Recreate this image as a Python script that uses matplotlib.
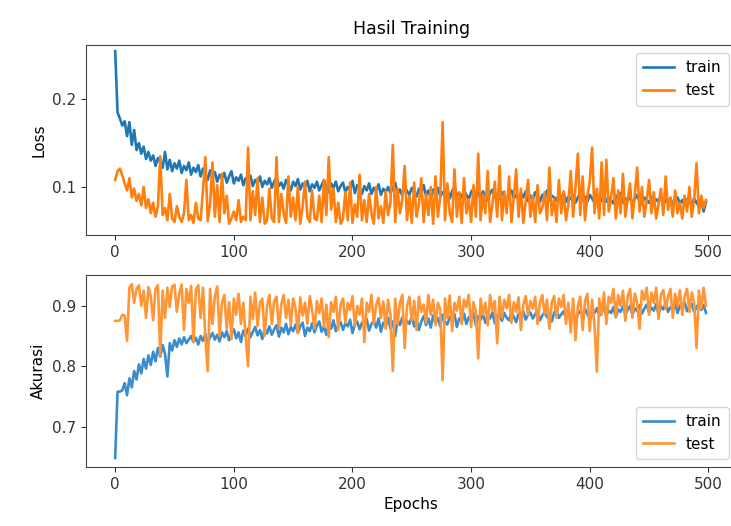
import numpy as np
import matplotlib
matplotlib.use("Agg")
import matplotlib.pyplot as plt

# ---- data (values read every 2 epochs) ----
epochs = list(range(0, 500, 2))

train_loss = [
    0.255, 0.185, 0.178, 0.170, 0.175, 0.158,
    0.174, 0.148, 0.165, 0.142, 0.150, 0.138, 0.146, 0.132, 0.140, 0.130,
    0.136, 0.124, 0.133, 0.128, 0.122, 0.140, 0.120, 0.131, 0.118, 0.127,
    0.121, 0.130, 0.116, 0.124, 0.119, 0.128, 0.114, 0.122, 0.117, 0.125,
    0.112, 0.121, 0.115, 0.108, 0.119, 0.111, 0.117, 0.106, 0.114, 0.110,
    0.116, 0.105, 0.112, 0.118, 0.104, 0.111, 0.107, 0.114, 0.102, 0.110,
    0.106, 0.113, 0.101, 0.108, 0.104, 0.112, 0.100, 0.107, 0.103, 0.110,
    0.099, 0.106, 0.111, 0.101, 0.105, 0.098, 0.108, 0.102, 0.096, 0.106,
    0.101, 0.109, 0.097, 0.104, 0.100, 0.107, 0.095, 0.103, 0.099, 0.106,
    0.096, 0.102, 0.108, 0.098, 0.094, 0.104, 0.099, 0.106, 0.095, 0.101,
    0.105, 0.094, 0.100, 0.097, 0.107, 0.093, 0.102, 0.098, 0.092, 0.101,
    0.096, 0.104, 0.092, 0.099, 0.095, 0.103, 0.091, 0.098, 0.094, 0.100,
    0.093, 0.099, 0.105, 0.092, 0.097, 0.090, 0.101, 0.095, 0.091, 0.099,
    0.094, 0.089, 0.098, 0.093, 0.102, 0.090, 0.096, 0.088, 0.097, 0.092,
    0.099, 0.089, 0.094, 0.091, 0.097, 0.087, 0.095, 0.100, 0.090, 0.093,
    0.088, 0.096, 0.091, 0.086, 0.094, 0.098, 0.089, 0.093, 0.087, 0.095,
    0.090, 0.085, 0.093, 0.097, 0.088, 0.092, 0.086, 0.094, 0.089, 0.084,
    0.092, 0.096, 0.087, 0.091, 0.085, 0.093, 0.088, 0.095, 0.084, 0.090,
    0.086, 0.094, 0.089, 0.083, 0.091, 0.087, 0.096, 0.085, 0.090, 0.088,
    0.084, 0.092, 0.087, 0.093, 0.083, 0.089, 0.086, 0.091, 0.082, 0.088,
    0.094, 0.085, 0.089, 0.083, 0.091, 0.087, 0.082, 0.090, 0.086, 0.084,
    0.092, 0.083, 0.088, 0.085, 0.081, 0.090, 0.086, 0.093, 0.082, 0.087,
    0.084, 0.089, 0.081, 0.086, 0.091, 0.083, 0.080, 0.088, 0.085, 0.082,
    0.089, 0.081, 0.086, 0.083, 0.090, 0.080, 0.085, 0.082, 0.087, 0.079,
    0.084, 0.088, 0.081, 0.085, 0.079, 0.086, 0.083, 0.080, 0.087, 0.082,
    0.078, 0.085, 0.072, 0.083,
]

test_loss = [
    0.108, 0.118, 0.121, 0.113, 0.104, 0.096,
    0.110, 0.088, 0.098, 0.084, 0.092, 0.079, 0.100, 0.076, 0.086, 0.070,
    0.082, 0.066, 0.078, 0.135, 0.068, 0.076, 0.062, 0.092, 0.064, 0.060,
    0.078, 0.066, 0.060, 0.070, 0.108, 0.062, 0.068, 0.059, 0.082, 0.064,
    0.062, 0.096, 0.134, 0.061, 0.080, 0.128, 0.066, 0.102, 0.060, 0.115,
    0.070, 0.090, 0.058, 0.064, 0.072, 0.062, 0.085, 0.060, 0.066, 0.062,
    0.145, 0.062, 0.095, 0.068, 0.110, 0.060, 0.088, 0.058, 0.062, 0.098,
    0.064, 0.060, 0.134, 0.060, 0.092, 0.070, 0.059, 0.112, 0.066, 0.088,
    0.062, 0.100, 0.058, 0.078, 0.106, 0.066, 0.060, 0.096, 0.064, 0.062,
    0.090, 0.060, 0.108, 0.068, 0.134, 0.074, 0.098, 0.060, 0.082, 0.058,
    0.064, 0.094, 0.062, 0.105, 0.059, 0.080, 0.066, 0.114, 0.062, 0.085,
    0.060, 0.092, 0.070, 0.058, 0.100, 0.064, 0.078, 0.059, 0.095, 0.068,
    0.082, 0.148, 0.060, 0.098, 0.070, 0.086, 0.124, 0.062, 0.090, 0.059,
    0.105, 0.066, 0.080, 0.110, 0.060, 0.092, 0.068, 0.100, 0.058, 0.112,
    0.066, 0.088, 0.174, 0.062, 0.104, 0.070, 0.060, 0.120, 0.066, 0.094,
    0.059, 0.110, 0.070, 0.086, 0.060, 0.102, 0.066, 0.138, 0.062, 0.092,
    0.070, 0.118, 0.060, 0.080, 0.106, 0.066, 0.124, 0.062, 0.095, 0.070,
    0.112, 0.060, 0.088, 0.120, 0.066, 0.098, 0.059, 0.084, 0.108, 0.066,
    0.090, 0.060, 0.102, 0.070, 0.076, 0.094, 0.062, 0.122, 0.068, 0.086,
    0.060, 0.108, 0.070, 0.095, 0.062, 0.080, 0.118, 0.066, 0.100, 0.138,
    0.068, 0.112, 0.062, 0.090, 0.106, 0.145, 0.070, 0.098, 0.064, 0.128,
    0.068, 0.131, 0.072, 0.088, 0.110, 0.064, 0.096, 0.070, 0.115, 0.066,
    0.086, 0.104, 0.064, 0.092, 0.122, 0.072, 0.100, 0.066, 0.084, 0.108,
    0.070, 0.094, 0.064, 0.080, 0.098, 0.068, 0.112, 0.074, 0.088, 0.066,
    0.096, 0.070, 0.082, 0.064, 0.090, 0.072, 0.100, 0.066, 0.086, 0.127,
    0.070, 0.090, 0.076, 0.085,
]

train_acc = [
    0.648, 0.758, 0.758, 0.760, 0.772, 0.752,
    0.780, 0.765, 0.792, 0.778, 0.803, 0.788, 0.812, 0.796, 0.818, 0.802,
    0.824, 0.808, 0.830, 0.816, 0.835, 0.820, 0.783, 0.838, 0.826, 0.843,
    0.832, 0.846, 0.836, 0.848, 0.838, 0.844, 0.850, 0.840, 0.847, 0.836,
    0.850, 0.842, 0.853, 0.838, 0.848, 0.855, 0.844, 0.852, 0.841, 0.856,
    0.848, 0.858, 0.843, 0.854, 0.861, 0.846, 0.856, 0.840, 0.859, 0.850,
    0.862, 0.848, 0.857, 0.865, 0.851, 0.860, 0.845, 0.863, 0.854, 0.866,
    0.852, 0.861, 0.868, 0.849, 0.864, 0.856, 0.870, 0.853, 0.865, 0.858,
    0.869, 0.855, 0.866, 0.872, 0.850, 0.864, 0.858, 0.871, 0.856, 0.867,
    0.874, 0.857, 0.866, 0.852, 0.870, 0.862, 0.876, 0.858, 0.868, 0.873,
    0.860, 0.871, 0.866, 0.877, 0.855, 0.869, 0.874, 0.861, 0.872, 0.866,
    0.878, 0.859, 0.870, 0.875, 0.864, 0.879, 0.857, 0.872, 0.867, 0.880,
    0.862, 0.874, 0.850, 0.877, 0.868, 0.881, 0.863, 0.875, 0.870, 0.882,
    0.866, 0.878, 0.860, 0.874, 0.883, 0.868, 0.879, 0.864, 0.884, 0.872,
    0.880, 0.866, 0.885, 0.873, 0.869, 0.882, 0.876, 0.886, 0.865, 0.879,
    0.874, 0.887, 0.870, 0.881, 0.876, 0.888, 0.868, 0.883, 0.877, 0.886,
    0.872, 0.884, 0.879, 0.889, 0.871, 0.882, 0.886, 0.875, 0.888, 0.880,
    0.876, 0.890, 0.882, 0.873, 0.887, 0.881, 0.891, 0.877, 0.885, 0.889,
    0.879, 0.886, 0.892, 0.876, 0.884, 0.890, 0.881, 0.887, 0.874, 0.889,
    0.893, 0.880, 0.886, 0.891, 0.878, 0.888, 0.884, 0.894, 0.872, 0.887,
    0.891, 0.882, 0.895, 0.886, 0.879, 0.892, 0.888, 0.896, 0.883, 0.890,
    0.897, 0.885, 0.892, 0.888, 0.898, 0.881, 0.894, 0.890, 0.899, 0.886,
    0.893, 0.900, 0.884, 0.896, 0.891, 0.901, 0.887, 0.895, 0.902, 0.889,
    0.897, 0.892, 0.903, 0.886, 0.899, 0.894, 0.904, 0.890, 0.898, 0.893,
    0.905, 0.888, 0.900, 0.896, 0.906, 0.891, 0.899, 0.903, 0.890, 0.898,
    0.904, 0.893, 0.901, 0.888,
]

test_acc = [
    0.875, 0.875, 0.876, 0.885, 0.884, 0.842,
    0.930, 0.936, 0.905, 0.928, 0.934, 0.900, 0.925, 0.880, 0.931, 0.915,
    0.876, 0.928, 0.934, 0.818, 0.925, 0.880, 0.930, 0.898, 0.932, 0.935,
    0.890, 0.920, 0.935, 0.860, 0.928, 0.905, 0.933, 0.840, 0.926, 0.934,
    0.880, 0.930, 0.845, 0.792, 0.928, 0.870, 0.915, 0.932, 0.850, 0.905,
    0.918, 0.862, 0.906, 0.845, 0.912, 0.885, 0.920, 0.870, 0.905, 0.848,
    0.800, 0.915, 0.878, 0.922, 0.866, 0.905, 0.912, 0.850, 0.900, 0.918,
    0.870, 0.908, 0.915, 0.862, 0.902, 0.918, 0.880, 0.910, 0.868, 0.912,
    0.896, 0.855, 0.914, 0.884, 0.905, 0.870, 0.916, 0.893, 0.862, 0.908,
    0.888, 0.912, 0.865, 0.902, 0.848, 0.906, 0.890, 0.915, 0.860, 0.902,
    0.912, 0.872, 0.905, 0.893, 0.916, 0.866, 0.900, 0.885, 0.912, 0.840,
    0.905, 0.890, 0.918, 0.870, 0.902, 0.913, 0.880, 0.907, 0.862, 0.910,
    0.885, 0.792, 0.912, 0.870, 0.905, 0.918, 0.830, 0.900, 0.915, 0.875,
    0.908, 0.860, 0.915, 0.890, 0.902, 0.872, 0.918, 0.885, 0.910, 0.868,
    0.905, 0.895, 0.777, 0.912, 0.880, 0.917, 0.858, 0.905, 0.892, 0.915,
    0.870, 0.910, 0.898, 0.918, 0.865, 0.906, 0.890, 0.813, 0.912, 0.885,
    0.905, 0.868, 0.918, 0.892, 0.908, 0.838, 0.915, 0.880, 0.910, 0.896,
    0.918, 0.872, 0.906, 0.890, 0.914, 0.860, 0.902, 0.916, 0.884, 0.908,
    0.895, 0.915, 0.870, 0.905, 0.918, 0.885, 0.910, 0.862, 0.906, 0.916,
    0.880, 0.912, 0.898, 0.918, 0.870, 0.905, 0.856, 0.912, 0.843, 0.900,
    0.915, 0.860, 0.908, 0.920, 0.858, 0.910, 0.868, 0.791, 0.912, 0.885,
    0.922, 0.870, 0.915, 0.905, 0.928, 0.882, 0.918, 0.900, 0.925, 0.875,
    0.916, 0.928, 0.880, 0.920, 0.905, 0.862, 0.925, 0.910, 0.930, 0.885,
    0.922, 0.905, 0.930, 0.878, 0.918, 0.926, 0.895, 0.915, 0.928, 0.880,
    0.920, 0.900, 0.926, 0.885, 0.915, 0.928, 0.890, 0.922, 0.905, 0.830,
    0.925, 0.895, 0.930, 0.900,
]

title = "Hasil Training"
series_labels = ["train", "test"]
x_ticks = [0, 100, 200, 300, 400, 500]
loss_ticks = [0.1, 0.2]
acc_ticks = [0.7, 0.8, 0.9]

plt.rcParams["font.family"] = ["DejaVu Sans"]
plt.rcParams["font.size"] = 10.5

fig = plt.figure(figsize=(7.31, 5.26), dpi=100)
L, R = 0.117, 1.008
ax1 = fig.add_axes([L, 0.553, R - L, 0.9144 - 0.553])
ax2 = fig.add_axes([L, 0.112, R - L, 0.4772 - 0.112])

blue, orange = "#1f77b4", "#ff7f0e"
lw = 1.9

ax1.plot(epochs, train_loss, color=blue, lw=lw, label=series_labels[0])
ax1.plot(epochs, test_loss, color=orange, lw=lw, label=series_labels[1])
ax1.set_ylim(0.045, 0.262)
ax1.set_yticks(loss_ticks)
ax1.set_ylabel("Loss", fontsize=11)
ax1.set_title(title, fontsize=12.5, pad=8)
ax1.legend(loc="upper right", fontsize=11, handlelength=2.0, borderpad=0.5)

ax2.plot(epochs, train_acc, color="#3a8ccc", lw=lw, label=series_labels[0])
ax2.plot(epochs, test_acc, color="#ff9535", lw=lw, label=series_labels[1])
ax2.set_ylim(0.633, 0.951)
ax2.set_yticks(acc_ticks)
ax2.set_ylabel("Akurasi", fontsize=11)
ax2.set_xlabel("Epochs", fontsize=11)
ax2.legend(loc="lower right", fontsize=11, handlelength=2.0, borderpad=0.5)

for ax in (ax1, ax2):
    ax.set_xlim(-25, 524)
    ax.set_xticks(x_ticks)
    ax.tick_params(labelsize=11, colors="#333333")
    for s in ax.spines.values():
        s.set_color("#444444")

fig.savefig("out.png", dpi=100)
